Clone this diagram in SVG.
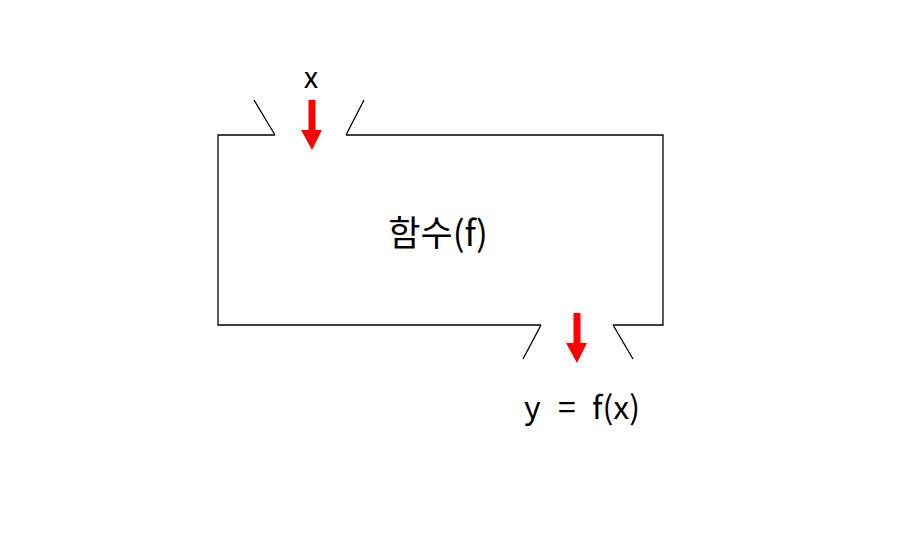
<svg xmlns="http://www.w3.org/2000/svg" width="907" height="542" viewBox="0 0 907 542">
<defs>
<style>
.ln{fill:none;stroke:#000;stroke-width:1.3;}
.t{font-family:"Noto Sans CJK KR","Noto Sans",sans-serif;fill:#000;}
.arr{fill:#ff0000;}
</style>
</defs>
<rect width="907" height="542" fill="#fff"/>
<g id="function-box">
<path class="ln" d="M275,135 H218 V325 H541 M613,325 H663 V135 H346"/>
<text class="t" x="438" y="246" font-size="35" text-anchor="middle">함수(f)</text>
</g>
<g id="input">
<text class="t" x="311" y="88" font-size="29" text-anchor="middle">x</text>
</g>
<g id="output">
<text class="t" y="419" font-size="32"><tspan x="524">y</tspan><tspan x="558">=</tspan><tspan x="592">f(x)</tspan></text>
</g>
<g id="connectors">
<path class="ln" d="M275,135 L254,100 M346,135 L364,100 M541,325 L523,359 M613,325 L633,359"/>
<path class="arr" d="M308.5,100 H315.5 V130 H322 L312,150 L301,130 H308.5 Z"/>
<path class="arr" d="M573.5,313 H580.5 V343 H587 L577,363 L566,343 H573.5 Z"/>
</g>
</svg>
